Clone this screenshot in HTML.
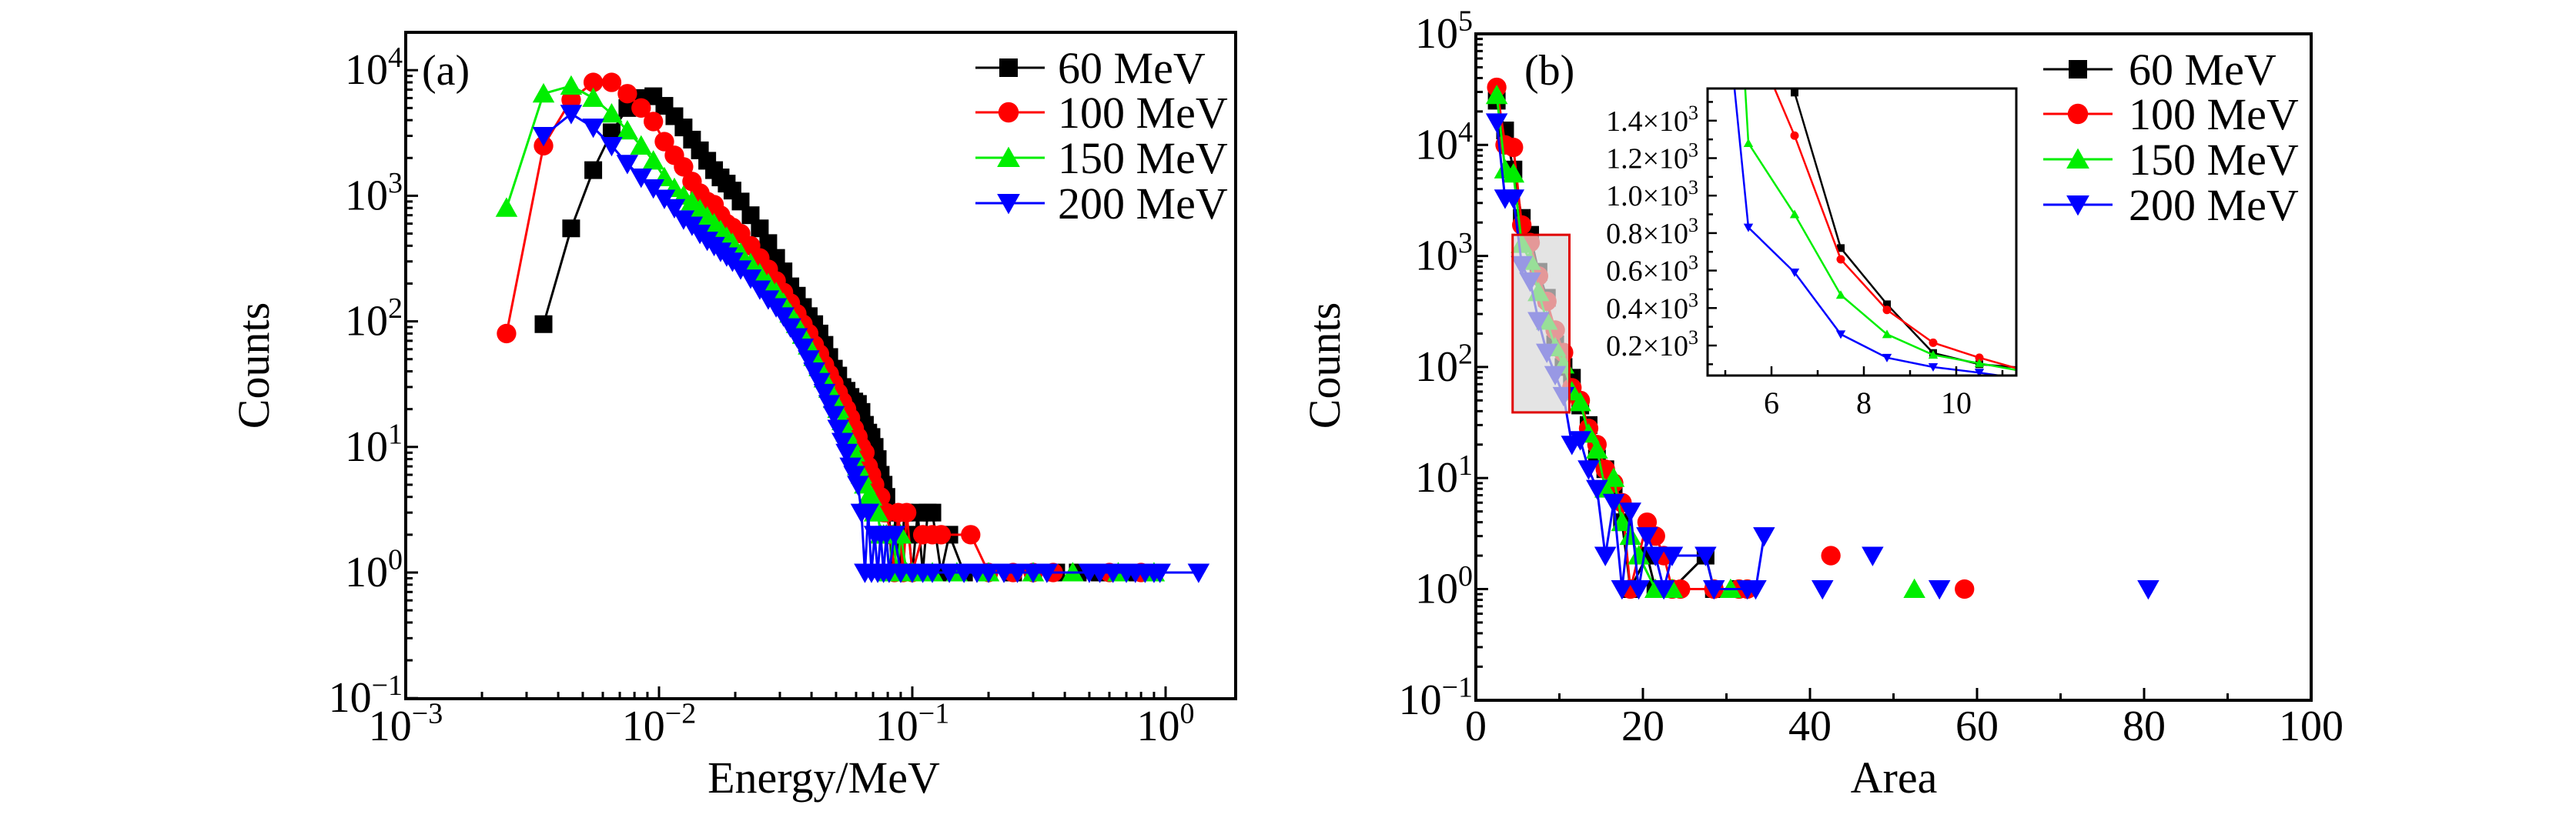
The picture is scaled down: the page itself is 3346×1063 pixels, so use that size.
<!DOCTYPE html>
<html><head><meta charset="utf-8"><style>
html,body{margin:0;padding:0;background:#fff}
svg{display:block}
svg text{font-family:"Liberation Serif","DejaVu Serif",serif;fill:#000}
</style></head><body>
<svg id="chart" xmlns="http://www.w3.org/2000/svg" width="3346" height="1063" viewBox="0 0 3346 1063" font-family="Liberation Serif, DejaVu Serif, serif">
<rect width="3346" height="1063" fill="#fff"/>
<g id="pa"></g>
<g id="pb"></g>
</svg>
<script>
// ---------- Panel (a) data ----------
const energyMain=[0.0025,0.0035,0.0045,0.0055,0.0065,0.0075,0.0085,0.0095,0.0105,0.0115,0.0125,0.0135,0.0145,0.0155,0.0165,0.0175,0.0185,0.0195,0.021,0.023,0.025,0.027,0.029,0.031,0.033,0.035,0.037,0.039,0.041,0.043,0.045,0.047,0.049,0.051,0.053,0.055,0.057,0.059,0.061,0.063,0.065,0.067,0.069,0.071,0.073,0.075,0.077,0.079];
const countsA60=[null,95,550,1600,3200,5000,6000,6200,5200,4300,3500,2800,2300,1900,1600,1400,1250,1100,900,700,550,420,320,250,190,160,130,110,95,80,65,52,42,37,30,28,25,23,22,19,15,13,12,10,8,6,5,4];
const countsA100=[80,2500,5800,8000,8000,6500,5000,3900,2700,2100,1700,1300,1050,900,850,700,600,560,500,400,320,260,210,170,140,115,95,80,65,55,45,38,32,27,23,20,17,14,12,10,9,7,6,5,4,4,3,3];
const countsA150=[800,6500,7500,6000,4500,3300,2500,1900,1400,1150,1000,900,780,680,600,530,470,420,350,290,240,200,170,140,115,95,78,64,52,43,35,29,24,20,16,13,11,9,7,6,5,4,4,3,3,2,2,2];
const countsA200=[null,3000,4500,3500,2500,1800,1400,1150,950,800,650,580,500,440,400,360,330,300,260,220,180,150,130,110,90,75,62,50,40,33,27,22,18,14,11,9,7,6,5,3,1,3,1,2,1,2,1,2];
const tailE60=[0.081,0.083,0.086,0.09,0.093,0.097,0.1,0.105,0.11,0.115,0.12,0.13,0.14,0.16,0.2,0.25,0.3,0.37,0.45,0.55,0.7,0.85];
const tailC60=[3,1,3,1,3,2,1,3,1,3,3,1,2,1,1,1,1,1,1,1,1,1];
const tailE100=[0.082,0.085,0.088,0.092,0.095,0.1,0.11,0.12,0.13,0.17,0.2,0.25,0.3,0.36,0.6,0.8];
const tailC100=[2,1,3,1,3,1,2,2,2,2,1,1,1,1,1,1];
const tailE150=[0.081,0.084,0.087,0.09,0.095,0.1,0.12,0.15,0.2,0.3,0.43,0.65,0.9];
const tailC150=[1,2,1,2,1,1,1,1,1,1,1,1,1];
const tailE200=[0.081,0.085,0.09,0.1,0.11,0.12,0.14,0.16,0.18,0.2,0.23,0.26,0.3,0.34,0.5,0.55,0.62,0.7,0.76,0.83,0.9,0.95,1.35];
const tailC200=[1,2,1,1,1,1,1,1,1,1,1,1,1,1,1,1,1,1,1,1,1,1,1];
// ---------- Panel (b) data ----------
const area60=[2.5,3.5,4.5,5.5,6.5,7.5,8.5,9.5,10.5,11.5,12.5,13.5,14.5,15.5,16.5,17.5,18.5,20.5,21.5,22.5,23.5,27.5,28.5,31.5];
const countsB60=[25000,13500,6000,2200,1550,720,420,160,100,80,45,30,15,12,8,4,1,2,1,1,1,2,1,1];
const area100=[2.5,3.5,4.5,5.5,6.5,7.5,8.5,9.5,10.5,11.5,12.5,13.5,14.5,15.5,16.5,17.5,18.5,20.5,21.5,22.5,23.5,24.5,28.5,31.5,32.5,42.5,58.5];
const countsB100=[33000,10000,9500,1900,1320,660,390,215,135,65,50,28,20,12,9,6,1,4,3,2,1,1,1,1,1,2,1];
const area150=[2.5,3.5,4.5,5.5,6.5,7.5,8.5,9.5,10.5,11.5,12.5,13.5,14.5,15.5,16.5,17.5,18.5,19.5,21.5,23.5,30.5,52.5];
const countsB150=[28000,6000,5500,1280,900,470,260,150,105,60,48,25,18,8,10,4,3,2,1,1,1,1];
const area200=[2.5,3.5,4.5,5.5,6.5,7.5,8.5,9.5,10.5,11.5,12.5,13.5,14.5,15.5,16.5,17.5,18.5,19.5,20.5,21.5,22.5,23.5,27.5,28.5,32.5,33.5,34.5,41.5,47.5,55.5,80.5];
const countsB200=[16000,3300,3300,830,590,260,135,85,55,20,22,12,8,2,6,1,5,1,3,2,1,2,2,1,1,1,3,1,2,1,1];
const legendLabels=["60 MeV","100 MeV","150 MeV","200 MeV"];
const ticksA_x=[-3,-2,-1,0];
const ticksA_y=[-1,0,1,2,3,4];
const ticksB_y=[-1,0,1,2,3,4,5];
const ticksB_x=[0,20,40,60,80,100];
const ticksInsetY=[200,400,600,800,1000,1200,1400];
const ticksInsetYLabels=["0.2","0.4","0.6","0.8","1.0","1.2","1.4"];
const ticksInsetX=[6,8,10];

const NS="http://www.w3.org/2000/svg";
const FONT="Liberation Serif, DejaVu Serif, serif";
function mk(tag,attrs,parent){const e=document.createElementNS(NS,tag);for(const k in attrs)e.setAttribute(k,attrs[k]);if(tag==='text')e.setAttribute('font-family',FONT);parent.appendChild(e);return e;}
const colors=["#000000","#ff0000","#00ee00","#0000ff"];
const shapes=["square","circle","up","down"];
function marker(g,shape,x,y,s,col){
  let m;
  if(shape==="square")m=mk('rect',{x:x-s/2,y:y-s/2,width:s,height:s,fill:col},g);
  else if(shape==="circle")m=mk('circle',{cx:x,cy:y,r:s*0.55,fill:col},g);
  else if(shape==="up")m=mk('polygon',{points:`${x-s*0.62},${y+s*0.5} ${x+s*0.62},${y+s*0.5} ${x},${y-s*0.6}`,fill:col},g);
  else m=mk('polygon',{points:`${x-s*0.62},${y-s*0.5} ${x+s*0.62},${y-s*0.5} ${x},${y+s*0.6}`,fill:col},g);
  
  
  return m;
}
function sup(parent,x,y,base,exp,anchor,fs,fsup,name){
  const t=mk('text',{x:x,y:y,'text-anchor':anchor,'font-size':fs},parent);
  
  
  t.appendChild(document.createTextNode(base));
  const s=mk('tspan',{dy:-fs*0.4,'font-size':fsup},t);s.textContent=exp;
  return t;
}
// maxGap: break the line where consecutive x values differ by more than this (data units)
function series(g,xs,ys,fx,fy,i,s,lw,maxGap){
  const sg=mk('g',{},g);
  
  
  const segs=[];let cur=[];let prevX=null;
  const pts=[];
  for(let k=0;k<xs.length;k++){
    if(ys[k]==null)continue;
    const p=[fx(xs[k]),fy(ys[k])];pts.push(p);
    if(maxGap&&prevX!==null&&xs[k]-prevX>maxGap){segs.push(cur);cur=[];}
    cur.push(p);prevX=xs[k];
  }
  segs.push(cur);
  segs.forEach(sgm=>{if(sgm.length<2)return;
    const pl=mk('polyline',{points:sgm.map(p=>p.join(',')).join(' '),fill:'none',stroke:colors[i],'stroke-width':lw},sg);
    
    });
  pts.forEach(p=>marker(sg,shapes[i],p[0],p[1],s,colors[i]));
}
function legend(g,lx,mx,tx,rows){
  const lg=mk('g',{},g);
  
  
  for(let i=0;i<4;i++){
    const y=rows[i];
    const e=mk('g',{},lg);
    
    
    mk('line',{x1:lx,x2:lx+90,y1:y,y2:y,stroke:colors[i],'stroke-width':3},e);
    marker(e,shapes[i],mx,y,24,colors[i]);
    const t=mk('text',{x:tx,y:y+20,'font-size':58},e);
    
    
    t.textContent=legendLabels[i];
  }
}

// ===== Panel A =====
(function(){
  const g=document.getElementById('pa');
  const L=527,R=1605,T=42,B=908;
  const xa=e=>L+329*(Math.log10(e)+3);
  const ya=c=>744-163.2*Math.log10(c);
  const allE=[energyMain.concat(tailE60),energyMain.concat(tailE100),energyMain.concat(tailE150),energyMain.concat(tailE200)];
  const allC=[countsA60.concat(tailC60),countsA100.concat(tailC100),countsA150.concat(tailC150),countsA200.concat(tailC200)];
  for(let i=0;i<4;i++)series(g,allE[i],allC[i],xa,ya,i,23,3,0);
  const ax=mk('rect',{x:L,y:T,width:R-L,height:B-T,fill:'none',stroke:'#000','stroke-width':4},g);
  
  
  const tg=mk('g',{stroke:'#000','stroke-width':3},g);
  
  
  for(let d=-3;d<=0;d++){
    const x=xa(Math.pow(10,d));
    mk('line',{x1:x,x2:x,y1:B,y2:B-16},tg);
    for(let k=2;k<=9;k++){const xm=xa(k*Math.pow(10,d));if(xm<R)mk('line',{x1:xm,x2:xm,y1:B,y2:B-9},tg);}
  }
  for(let d=-1;d<=4;d++){
    const y=ya(Math.pow(10,d));
    mk('line',{x1:L,x2:L+16,y1:y,y2:y},tg);
    for(let k=2;k<=9;k++){const ym=ya(k*Math.pow(10,d));if(ym>T)mk('line',{x1:L,x2:L+9,y1:ym,y2:ym},tg);}
  }
  ticksA_x.forEach(d=>sup(g,xa(Math.pow(10,d)),962,'10',d<0?'−'+(-d):String(d),'middle',56,38,'x-tick-label'));
  ticksA_y.forEach(d=>sup(g,L-4,ya(Math.pow(10,d))+18,'10',d<0?'−'+(-d):String(d),'end',56,38,'y-tick-label'));
  let t=mk('text',{x:1070,y:1030,'text-anchor':'middle','font-size':58},g);
  t.textContent='Energy/MeV';
  t=mk('text',{x:0,y:0,'text-anchor':'middle','font-size':58,transform:'translate(349,475) rotate(-90)'},g);
  t.textContent='Counts';
  t=mk('text',{x:548,y:110,'font-size':56},g);
  t.textContent='(a)';
  legend(g,1267,1310,1374,[88,146,205,264]);
})();

// ===== Panel B =====
(function(){
  const g=document.getElementById('pb');
  const L=1917,R=3002,T=44,B=910;
  const xb=a=>L+10.85*a;
  const yb=c=>44+144.3*(5-Math.log10(c));
  const AX=[area60,area100,area150,area200],CY=[countsB60,countsB100,countsB150,countsB200];
  for(let i=0;i<4;i++)series(g,AX[i],CY[i],xb,yb,i,23,3,4.5);
  const zb=mk('rect',{x:xb(4.4),y:yb(1550),width:xb(11.2)-xb(4.4),height:yb(39)-yb(1550),fill:'#d9d9d9','fill-opacity':0.7,stroke:'#e00000','stroke-width':3},g);
  
  
  const ax=mk('rect',{x:L,y:T,width:R-L,height:B-T,fill:'none',stroke:'#000','stroke-width':4},g);
  
  
  const tg=mk('g',{stroke:'#000','stroke-width':3},g);
  
  
  for(let v=0;v<=100;v+=10){const x=xb(v);mk('line',{x1:x,x2:x,y1:B,y2:B-(v%20===0?16:9)},tg);}
  for(let d=-1;d<=5;d++){
    const y=yb(Math.pow(10,d));
    mk('line',{x1:L,x2:L+16,y1:y,y2:y},tg);
    if(d<5)for(let k=2;k<=9;k++){const ym=yb(k*Math.pow(10,d));mk('line',{x1:L,x2:L+9,y1:ym,y2:ym},tg);}
  }
  ticksB_x.forEach(v=>{const t=mk('text',{x:xb(v),y:962,'text-anchor':'middle','font-size':56},g);
    t.textContent=String(v);});
  ticksB_y.forEach(d=>sup(g,L-4,yb(Math.pow(10,d))+18,'10',d<0?'−'+(-d):String(d),'end',56,38,'y-tick-label'));
  let t=mk('text',{x:2460,y:1030,'text-anchor':'middle','font-size':58},g);
  t.textContent='Area';
  t=mk('text',{x:0,y:0,'text-anchor':'middle','font-size':58,transform:'translate(1740,475) rotate(-90)'},g);
  t.textContent='Counts';
  t=mk('text',{x:1980,y:110,'font-size':56},g);
  t.textContent='(b)';
  legend(g,2654,2699,2765,[90,148,207,266]);

  const ig=mk('g',{},g);
  
  
  const IL=2218,IR=2619,IT=115,IB=488;
  const xi=a=>2301+60*(a-6);
  const yi=v=>449-(v-200)*0.2435;
  mk('rect',{x:IL,y:IT,width:IR-IL,height:IB-IT,fill:'#fff'},ig);
  const defs=mk('defs',{},ig);
  const cp=mk('clipPath',{id:'insetclip'},defs);
  mk('rect',{x:IL,y:IT,width:IR-IL,height:IB-IT},cp);
  const cg=mk('g',{'clip-path':'url(#insetclip)'},ig);
  for(let i=0;i<4;i++)series(cg,AX[i],CY[i],xi,yi,i,10,2.5,0);
  const fr=mk('rect',{x:IL,y:IT,width:IR-IL,height:IB-IT,fill:'none',stroke:'#000','stroke-width':3},ig);
  
  
  const itg=mk('g',{stroke:'#000','stroke-width':2.5},ig);
  for(let v=100;v<=1500;v+=100){const y=yi(v);if(y>IT&&y<IB)mk('line',{x1:IL,x2:IL+(v%200===0?12:7),y1:y,y2:y},itg);}
  for(let a=5;a<=11;a++){const x=xi(a);mk('line',{x1:x,x2:x,y1:IB,y2:IB-(a%2===0?12:7)},itg);}
  ticksInsetY.forEach((v,k)=>{
    const t=mk('text',{x:IL-12,y:yi(v)+13,'text-anchor':'end','font-size':38},ig);
    
    t.appendChild(document.createTextNode(ticksInsetYLabels[k]+'×10'));
    const s=mk('tspan',{dy:-15,'font-size':26},t);s.textContent='3';
  });
  ticksInsetX.forEach(v=>{const t=mk('text',{x:xi(v),y:537,'text-anchor':'middle','font-size':40},ig);
    t.textContent=String(v);});
})();
</script>
</body></html>
